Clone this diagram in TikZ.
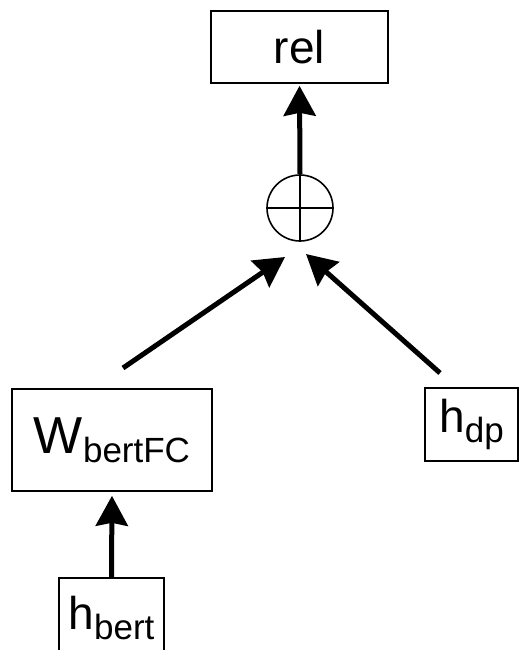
\documentclass[tikz,border=0pt]{standalone}
\usepackage{fontspec}
\setmainfont{Liberation Sans}
\usetikzlibrary{arrows.meta}
% lowered, smaller subscript text
\newcommand{\subtxt}[2][10pt]{\raisebox{-#1}{\fontsize{35}{35}\selectfont #2}}
\begin{document}
\begin{tikzpicture}[x=1pt,y=-1pt,
  box/.style={draw=black, line width=1.6pt, rectangle, inner sep=0pt},
  big/.style={font=\fontsize{46}{46}\selectfont},
  conn/.style={line width=5pt, -{Stealth[length=30pt,width=32pt,inset=3pt]}},
  sumnode/.style={draw=black, circle, line width=1.6pt, minimum size=66pt, inner sep=0pt,
    path picture={\draw[line width=1.6pt]
      (path picture bounding box.north) -- (path picture bounding box.south)
      (path picture bounding box.west) -- (path picture bounding box.east);}}
]
\useasboundingbox (0,0) rectangle (521,650);
\clip (0,0) rectangle (521,650);

% boxes
\node[box, big, minimum width=177pt, minimum height=72pt] (rel) at (299.5,47) {rel};
\node[sumnode] (sum) at (300,208) {};
\node[box, minimum width=200pt, minimum height=102pt] (wfc) at (112,440)
  {\fontsize{52}{52}\selectfont W\subtxt[9pt]{bertFC}};
\node[box, big, minimum width=93pt, minimum height=73pt] (hdp) at (471.5,424.5)
  {h\subtxt{dp}};
\node[box, big, minimum width=105pt, minimum height=80pt] (hbert) at (111.5,618)
  {h\subtxt{bert}};

% free arrow ends
\coordinate (lt) at (123,368);
\coordinate (lh) at (285,257);
\coordinate (rt) at (440,373);
\coordinate (rh) at (306,254);

% connectors
\draw[conn, shorten >=2pt] (sum.north) -- (rel.south);
\draw[conn] (lt) -- (lh);
\draw[conn] (rt) -- (rh);
\draw[conn, shorten >=4pt] (hbert.north) -- (wfc.south);
\end{tikzpicture}
\end{document}
